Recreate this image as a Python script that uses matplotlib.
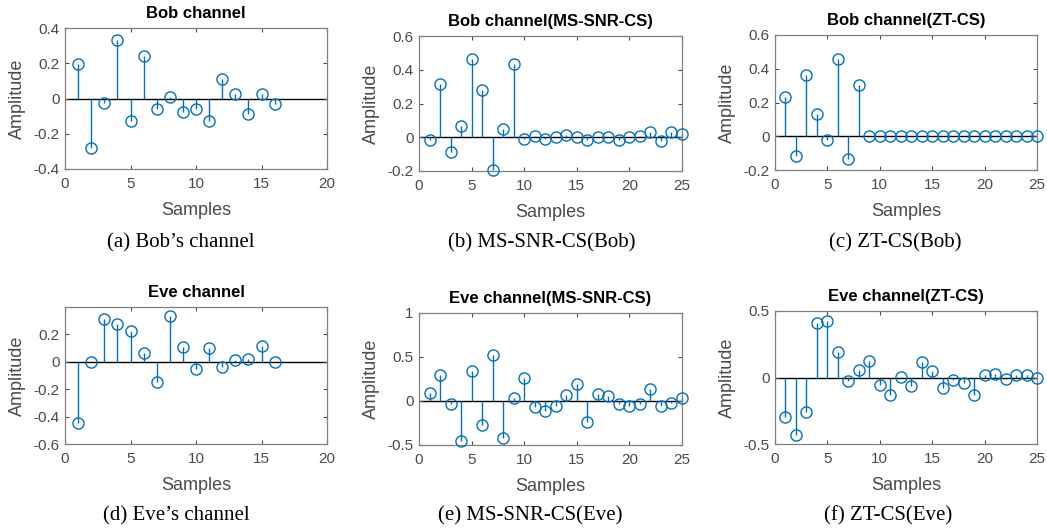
import matplotlib.pyplot as plt
import numpy as np

# sample amplitudes for each panel
bob = [0.194, -0.282, -0.023, 0.33, -0.128, 0.242, -0.057, 0.01, -0.076, -0.057,
       -0.128, 0.112, 0.023, -0.086, 0.023, -0.029]
bob_mssnr = [-0.014, 0.316, -0.088, 0.066, 0.466, 0.28, -0.194, 0.046, 0.436, -0.01,
             0.006, -0.01, 0.004, 0.012, 0.002, -0.018, 0.004, 0.002, -0.018, 0.0,
             0.008, 0.032, -0.02, 0.032, 0.022]
bob_zt = [0.234, -0.119, 0.362, 0.131, -0.02, 0.455, -0.135, 0.303] + [0.0] * 17
eve = [-0.444, 0.0, 0.31, 0.276, 0.224, 0.061, -0.146, 0.334, 0.105, -0.049,
       0.098, -0.041, 0.012, 0.024, 0.115, -0.002]
eve_mssnr = [0.086, 0.30, -0.034, -0.459, 0.338, -0.274, 0.526, -0.425, 0.03, 0.256,
             -0.071, -0.113, -0.056, 0.068, 0.192, -0.237, 0.075, 0.056, -0.038, -0.056,
             -0.038, 0.135, -0.056, -0.019, 0.03]
eve_zt = [-0.296, -0.433, -0.261, 0.413, 0.423, 0.192, -0.027, 0.057, 0.127, -0.055,
          -0.129, 0.007, -0.062, 0.119, 0.05, -0.08, -0.017, -0.045, -0.129, 0.017,
          0.025, -0.01, 0.017, 0.017, 0.0]

titles = ["Bob channel", "Bob channel(MS-SNR-CS)", "Bob channel(ZT-CS)",
          "Eve channel", "Eve channel(MS-SNR-CS)", "Eve channel(ZT-CS)"]
captions = ["(a) Bob\u2019s channel", "(b) MS-SNR-CS(Bob)", "(c) ZT-CS(Bob)",
            "(d) Eve\u2019s channel", "(e) MS-SNR-CS(Eve)", "(f) ZT-CS(Eve)"]
series = [bob, bob_mssnr, bob_zt, eve, eve_mssnr, eve_zt]
xlims = [20, 25, 25, 20, 25, 25]
ylims = [(-0.4, 0.4), (-0.2, 0.6), (-0.2, 0.6), (-0.6, 0.4), (-0.5, 1.0), (-0.5, 0.5)]
yticks = [[-0.4, -0.2, 0, 0.2, 0.4], [-0.2, 0, 0.2, 0.4, 0.6], [-0.2, 0, 0.2, 0.4, 0.6],
          [-0.6, -0.4, -0.2, 0, 0.2], [-0.5, 0, 0.5, 1], [-0.5, 0, 0.5]]

# axes boxes in pixels: left, top, right, bottom
boxes = [(65, 28, 327, 169), (419, 36, 682, 171), (775, 35, 1037, 170),
         (65, 307, 327, 444), (419, 313, 682, 445), (775, 311, 1037, 444)]
# caption centres in pixels
cap_pos = [(181, 243), (542, 243), (895, 243), (176, 516), (530, 516), (888, 516)]

W, H = 1047, 531
plt.rcParams['font.family'] = 'Liberation Sans'
fig = plt.figure(figsize=(W / 100, H / 100), dpi=100)
blue = '#0072BD'
gray = '#4a4a4a'

for i in range(6):
    l, t, r, b = boxes[i]
    ax = fig.add_axes([l / W, 1 - b / H, (r - l) / W, (b - t) / H])
    y = np.array(series[i])
    x = np.arange(1, len(y) + 1)
    ax.vlines(x, 0, y, color=blue, lw=1.0, zorder=2, clip_on=False)
    ax.plot(x, y, 'o', mfc='none', mec=blue, ms=8, mew=1.0, zorder=3, clip_on=False)
    ax.axhline(0, color='black', lw=1.0, zorder=1)
    ax.set_xlim(0, xlims[i])
    ax.set_ylim(*ylims[i])
    ax.set_xticks(np.arange(0, xlims[i] + 1, 5))
    ax.set_yticks(yticks[i])
    ax.set_yticklabels([f"{v:g}" for v in yticks[i]])
    ax.tick_params(direction='in', length=3, width=0.8, colors=gray, labelsize=11,
                   top=True, right=True)
    ax.tick_params(axis='x', pad=6)
    ax.tick_params(axis='y', pad=4)
    for s in ax.spines.values():
        s.set_color('#808080')
        s.set_linewidth(0.9)
    ax.set_title(titles[i], fontsize=12, fontweight='bold', pad=7)
    ax.set_xlabel("Samples", fontsize=13, color=gray, labelpad=8)
    ax.set_ylabel("Amplitude", fontsize=13, color=gray, labelpad=5)
    cx, cy = cap_pos[i]
    fig.text(cx / W, 1 - cy / H, captions[i],
             fontsize=15, family='Liberation Serif', ha='center', va='center')

fig.savefig('out.png', dpi=100)
